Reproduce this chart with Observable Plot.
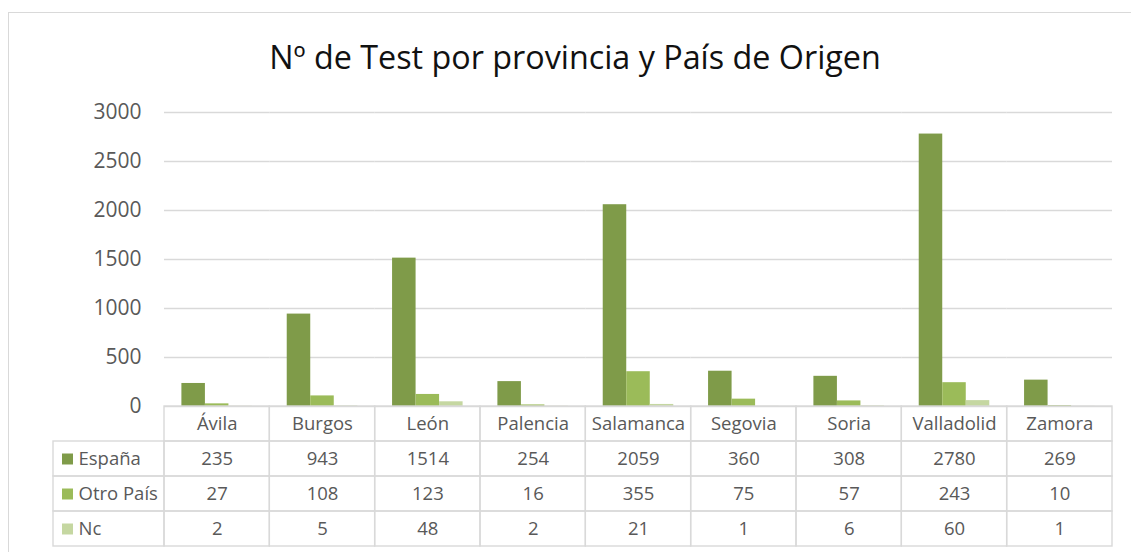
<!DOCTYPE html>
<html>
<head>
<meta charset="utf-8">
<script src="https://cdn.jsdelivr.net/npm/d3@7"></script>
<script src="https://cdn.jsdelivr.net/npm/@observablehq/plot@0.6"></script>
<style>
  html, body { margin: 0; padding: 0; background: #fff; overflow: hidden; width: 1131px; height: 552px; }
  body { font-family: "Open Sans", sans-serif; position: relative; }
  #frame { position: absolute; left: 8px; top: 12px; width: 1200px; height: 700px; border: 1.5px solid #d9d9d9; box-sizing: border-box; }
  #title { position: absolute; left: 0; top: 34px; width: 1150px; text-align: center; font-size: 32.3px; color: #111; white-space: nowrap; }
  #bars, #table, #legend { position: absolute; left: 0; }
  #bars { top: 90px; }
  #table, #legend { top: 405px; }
  svg { overflow: visible; }
</style>
</head>
<body>
<div id="frame"></div>
<div id="title">Nº de Test por provincia y País de Origen</div>
<div id="bars"></div>
<div id="table"></div>
<div id="legend"></div>
<script>
// ---- data ----
const provinces = ["Ávila", "Burgos", "León", "Palencia", "Salamanca", "Segovia", "Soria", "Valladolid", "Zamora"];
const series = ["España", "Otro País", "Nc"];
const espana = [235, 943, 1514, 254, 2059, 360, 308, 2780, 269];
const otroPais = [27, 108, 123, 16, 355, 75, 57, 243, 10];
const nc = [2, 5, 48, 2, 21, 1, 6, 60, 1];
const yTicks = [0, 500, 1000, 1500, 2000, 2500, 3000];
const colors = ["#7f9b49", "#9bbb59", "#c5d7a1"];

const seriesValues = [espana, otroPais, nc];
const data = provinces.flatMap((p, i) => series.map((s, j) => ({province: p, series: s, value: seriesValues[j][i]})));
const headerKey = "provincia";
const rows = [headerKey, ...series];
const headerCells = provinces.map(p => ({province: p, row: headerKey, text: p}));
const valueCells = data.map(d => ({province: d.province, row: d.series, text: String(d.value)}));
const allCells = [...headerCells, ...valueCells];

const grid = "#d9d9d9";
const textColor = "#595959";

// ---- bar chart ----
const bars = Plot.plot({
  width: 1131, height: 320,
  marginLeft: 164, marginRight: 19, marginTop: 22, marginBottom: 4,
  style: {fontFamily: "Open Sans", fontSize: "21px", color: textColor, background: "none", overflow: "visible"},
  facet: {data, x: "province"},
  fx: {domain: provinces, padding: 0, round: false, axis: null, label: null},
  x: {domain: series, paddingInner: 0, paddingOuter: 0.74, round: false, axis: null},
  y: {domain: [0, 3000], ticks: yTicks, tickSize: 0, tickPadding: 23, label: null, tickFormat: d => String(d)},
  color: {domain: series, range: colors},
  marks: [
    Plot.ruleY(yTicks, {stroke: grid, strokeWidth: 1.4}),
    Plot.barY(data, {x: "series", y: "value", fill: "series"})
  ]
});
document.getElementById("bars").appendChild(bars);

// ---- data table ----
const table = Plot.plot({
  width: 1131, height: 143,
  marginLeft: 164, marginRight: 19, marginTop: 1, marginBottom: 2,
  style: {fontFamily: "Open Sans", fontSize: "18.5px", color: textColor, background: "none", overflow: "visible"},
  x: {domain: provinces, range: [164, 1112], padding: 0, round: false, axis: null},
  y: {domain: rows, range: [1, 141], padding: 0, round: false, axis: null},
  marks: [
    Plot.cell(allCells, {x: "province", y: "row", fill: "none", stroke: grid, strokeWidth: 1.4}),
    Plot.text(allCells, {x: "province", y: "row", text: "text", fill: textColor})
  ]
});
document.getElementById("table").appendChild(table);

// ---- legend column of table ----
const legend = Plot.plot({
  width: 1131, height: 143, margin: 0,
  style: {fontFamily: "Open Sans", fontSize: "18.5px", color: textColor, background: "none", overflow: "visible"},
  x: {domain: ["key"], range: [53, 164], padding: 0, round: false, axis: null},
  y: {domain: rows, range: [1, 141], padding: 0, round: false, axis: null},
  color: {domain: series, range: colors},
  marks: [
    Plot.cell(series, {x: () => "key", y: d => d, fill: "none", stroke: grid, strokeWidth: 1.4}),
    Plot.dot(series, {x: () => "key", y: d => d, symbol: "square", r: 6.2, fill: d => d, dx: -41.5}),
    Plot.text(series, {x: () => "key", y: d => d, text: d => d, textAnchor: "start", dx: -30.5, fill: textColor})
  ]
});
document.getElementById("legend").appendChild(legend);
</script>
</body>
</html>
